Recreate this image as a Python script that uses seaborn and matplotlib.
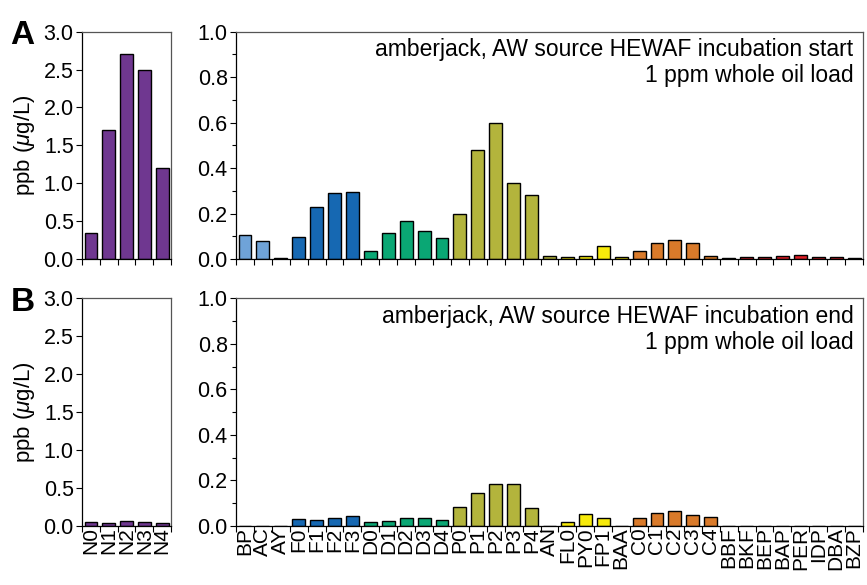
import pandas as pd
import matplotlib
matplotlib.use("Agg")
import matplotlib.pyplot as plt
import seaborn as sns
from matplotlib.ticker import MultipleLocator, FixedLocator

sns.set_style("ticks")
plt.rcParams['font.family'] = ['Liberation Sans', 'DejaVu Sans']
plt.rcParams['mathtext.fontset'] = 'custom'
plt.rcParams['mathtext.it'] = 'Liberation Sans:italic'
plt.rcParams['text.color'] = 'black'
plt.rcParams['xtick.color'] = 'black'
plt.rcParams['ytick.color'] = 'black'
plt.rcParams['axes.labelcolor'] = 'black'

# naphthalenes (left panels)
naph = ["N0", "N1", "N2", "N3", "N4"]
naph_start = [0.35, 1.70, 2.70, 2.50, 1.20]
naph_end = [0.048, 0.045, 0.066, 0.057, 0.035]

# other PAHs (right panels)
pahs = ["BP", "AC", "AY", "F0", "F1", "F2", "F3", "D0", "D1", "D2", "D3", "D4",
        "P0", "P1", "P2", "P3", "P4", "AN", "FL0", "PY0", "FP1", "BAA",
        "C0", "C1", "C2", "C3", "C4", "BBF", "BKF", "BEP", "BAP", "PER",
        "IDP", "DBA", "BZP"]
pahs_start = [0.105, 0.081, 0.007, 0.098, 0.227, 0.292, 0.293, 0.038, 0.113, 0.166,
              0.125, 0.095, 0.197, 0.481, 0.600, 0.336, 0.282, 0.015, 0.011, 0.016,
              0.059, 0.010, 0.034, 0.073, 0.084, 0.072, 0.012, 0.005, 0.009, 0.008,
              0.016, 0.019, 0.010, 0.010, 0.004]
pahs_end = [0.0, 0.0, 0.0, 0.031, 0.025, 0.036, 0.042, 0.016, 0.023, 0.034,
            0.035, 0.026, 0.082, 0.143, 0.184, 0.184, 0.079, 0.0, 0.017, 0.051,
            0.035, 0.0, 0.034, 0.055, 0.066, 0.047, 0.038, 0.0, 0.0, 0.0,
            0.0, 0.0, 0.0, 0.0, 0.0]

# colour group of each PAH
groups = ["lb", "lb", "lb", "b", "b", "b", "b", "g", "g", "g", "g", "g",
          "o", "o", "o", "o", "o", "o", "y", "y", "y", "y",
          "or", "or", "or", "or", "or", "r", "r", "r", "r", "r", "r", "r", "r"]
group_colors = {"lb": "#6fa3d8", "b": "#1668b2", "g": "#0aa774", "o": "#b3b43c",
                "y": "#f7ea0b", "or": "#d97a2a", "r": "#df1f26"}
purple = "#6f3790"

titles = ["amberjack, AW source HEWAF incubation start\n1 ppm whole oil load",
          "amberjack, AW source HEWAF incubation end\n1 ppm whole oil load"]

fig = plt.figure(figsize=(8.67, 5.85), dpi=100)

rows = [(0.557, naph_start, pahs_start, "A"), (0.101, naph_end, pahs_end, "B")]

for i, (bottom, nvals, pvals, letter) in enumerate(rows):
    axL = fig.add_axes([0.0946, bottom, 0.1027, 0.389])
    axR = fig.add_axes([0.2722, bottom, 0.7232, 0.389])

    dfn = pd.DataFrame({"cmp": naph, "ppb": nvals})
    sns.barplot(data=dfn, x="cmp", y="ppb", hue="cmp",
                palette=[purple] * len(naph), legend=False, saturation=1,
                width=0.72, edgecolor="black", linewidth=1, ax=axL)

    dfp = pd.DataFrame({"cmp": pahs, "ppb": pvals, "grp": groups})
    pal = [group_colors[g] for g in groups]
    sns.barplot(data=dfp, x="cmp", y="ppb", hue="cmp", palette=pal, legend=False,
                saturation=1, width=0.72, edgecolor="black", linewidth=1, ax=axR)

    axL.set_ylim(0, 3.0)
    axL.yaxis.set_major_locator(MultipleLocator(0.5))
    axL.set_xlim(-0.5, len(naph) - 0.5)
    axR.set_ylim(0, 1.0)
    axR.yaxis.set_major_locator(MultipleLocator(0.2))
    axR.yaxis.set_minor_locator(MultipleLocator(0.1))
    axR.set_xlim(-0.5, len(pahs) - 0.5)

    for ax, n in [(axL, len(naph)), (axR, len(pahs))]:
        ax.set_xlabel("")
        ax.set_ylabel("")
        ax.xaxis.set_minor_locator(FixedLocator([k - 0.5 for k in range(n + 1)]))
        ax.tick_params(axis="x", which="major", length=0)
        ax.tick_params(axis="x", which="minor", length=4, width=0.8, direction="out")
        ax.tick_params(axis="y", which="major", length=4, width=0.8, labelsize=15.5, pad=2)
        ax.tick_params(axis="y", which="minor", length=3, width=0.8)
        ax.tick_params(axis="x", labelsize=15, pad=1)
        for side in ["left", "bottom"]:
            ax.spines[side].set_color("black")
            ax.spines[side].set_linewidth(0.9)
        for side in ["top", "right"]:
            ax.spines[side].set_color("#555555")
            ax.spines[side].set_linewidth(0.9)
        if i == 0:
            ax.set_xticklabels([])
        else:
            ax.tick_params(axis="x", labelrotation=90)

    axL.set_ylabel("ppb ($\\mu$g/L)", fontsize=16)
    axL.yaxis.set_label_coords(-0.5, 0.5)
    axR.text(0.985, 0.97, titles[i], transform=axR.transAxes, ha="right", va="top",
             fontsize=16.5, linespacing=1.15)
    fig.text(0.012, bottom + 0.389 + 0.02, letter, fontsize=24, fontweight="bold",
             va="top", ha="left")

fig.savefig("out.png", dpi=100)
